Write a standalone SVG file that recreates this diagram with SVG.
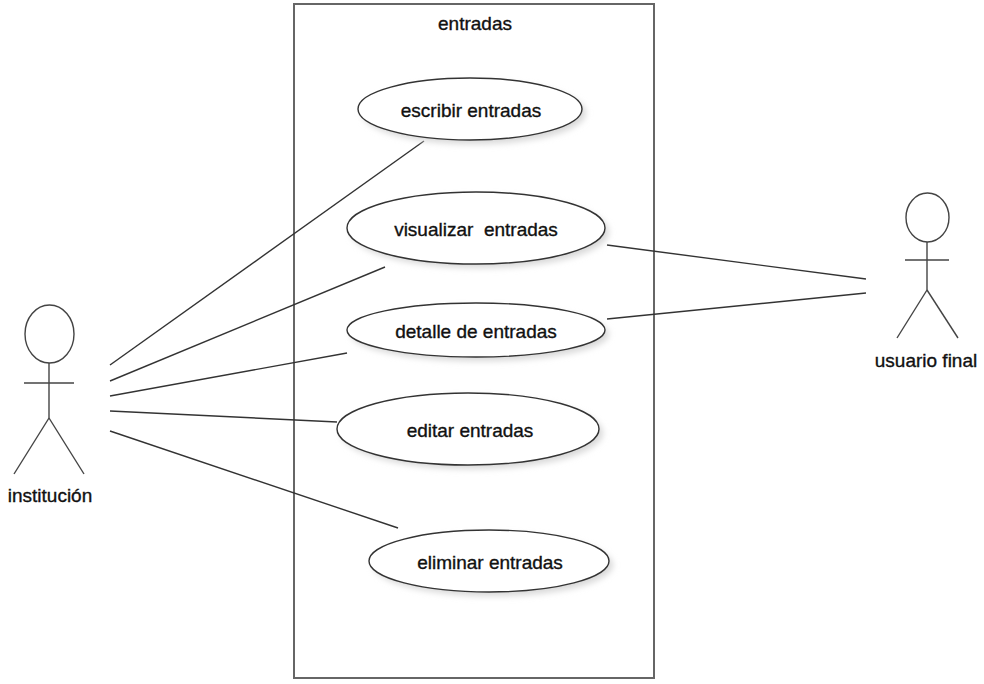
<svg xmlns="http://www.w3.org/2000/svg" width="984" height="684" viewBox="0 0 984 684">
<style>
.t{font-family:"Liberation Sans",Arial,sans-serif;font-size:19px;fill:#111;stroke:#111;stroke-width:0.35;text-anchor:middle}
.uc{fill:#fff;stroke:#333;stroke-width:1.4}
.sh{fill:#d8d8d8;filter:url(#blur)}
.ln{stroke:#333;stroke-width:1.4;fill:none}
.act{stroke:#444;stroke-width:1.4;fill:none}
</style>
<defs>
<filter id="blur" x="-20%" y="-20%" width="140%" height="140%"><feGaussianBlur stdDeviation="3"/></filter>
</defs>
<rect width="984" height="684" fill="#fff"/>
<g id="boundary">
<rect x="294" y="4" width="360" height="674" fill="none" stroke="#666" stroke-width="2"/>
<text class="t" x="475" y="30">entradas</text>
</g>
<g id="connectors">
<line class="ln" x1="110" y1="365" x2="424" y2="141"/>
<line class="ln" x1="110" y1="381" x2="385" y2="267"/>
<line class="ln" x1="110" y1="396" x2="347" y2="353"/>
<line class="ln" x1="110" y1="411" x2="337" y2="422"/>
<line class="ln" x1="110" y1="431" x2="398" y2="528"/>
<line class="ln" x1="866" y1="279" x2="607" y2="245"/>
<line class="ln" x1="866" y1="293" x2="607" y2="319"/>
</g>
<g id="uc-escribir">
<ellipse class="sh" cx="474" cy="113" rx="112" ry="31"/>
<ellipse class="uc" cx="470" cy="109" rx="112" ry="31"/>
<text class="t" x="471" y="117">escribir entradas</text>
</g>
<g id="uc-visualizar">
<ellipse class="sh" cx="480" cy="232" rx="129" ry="36"/>
<ellipse class="uc" cx="476" cy="228" rx="129" ry="36"/>
<text class="t" x="476" y="236" xml:space="preserve">visualizar  entradas</text>
</g>
<g id="uc-detalle">
<ellipse class="sh" cx="480" cy="334" rx="129" ry="27"/>
<ellipse class="uc" cx="476" cy="330" rx="129" ry="27"/>
<text class="t" x="476" y="338">detalle de entradas</text>
</g>
<g id="uc-editar">
<ellipse class="sh" cx="472" cy="433" rx="131" ry="36"/>
<ellipse class="uc" cx="468" cy="429" rx="131" ry="36"/>
<text class="t" x="470" y="437">editar entradas</text>
</g>
<g id="uc-eliminar">
<ellipse class="sh" cx="493" cy="565" rx="120" ry="31"/>
<ellipse class="uc" cx="489" cy="561" rx="120" ry="31"/>
<text class="t" x="490" y="569">eliminar entradas</text>
</g>
<g id="actor-institucion">
<ellipse class="act" cx="49.5" cy="334" rx="24.5" ry="29" fill="#fff"/>
<line class="act" x1="49" y1="363" x2="49" y2="418"/>
<line class="act" x1="24" y1="383" x2="74" y2="383"/>
<line class="act" x1="49" y1="418" x2="14" y2="474"/>
<line class="act" x1="49" y1="418" x2="84" y2="474"/>
<text class="t" x="50" y="502">institución</text>
</g>
<g id="actor-usuario">
<ellipse class="act" cx="927.5" cy="217.5" rx="21.5" ry="24.5"/>
<line class="act" x1="927" y1="242" x2="927" y2="290"/>
<line class="act" x1="905" y1="260" x2="949" y2="260"/>
<line class="act" x1="927" y1="290" x2="897" y2="338"/>
<line class="act" x1="927" y1="290" x2="958" y2="338"/>
<text class="t" x="926" y="367">usuario final</text>
</g>
</svg>
